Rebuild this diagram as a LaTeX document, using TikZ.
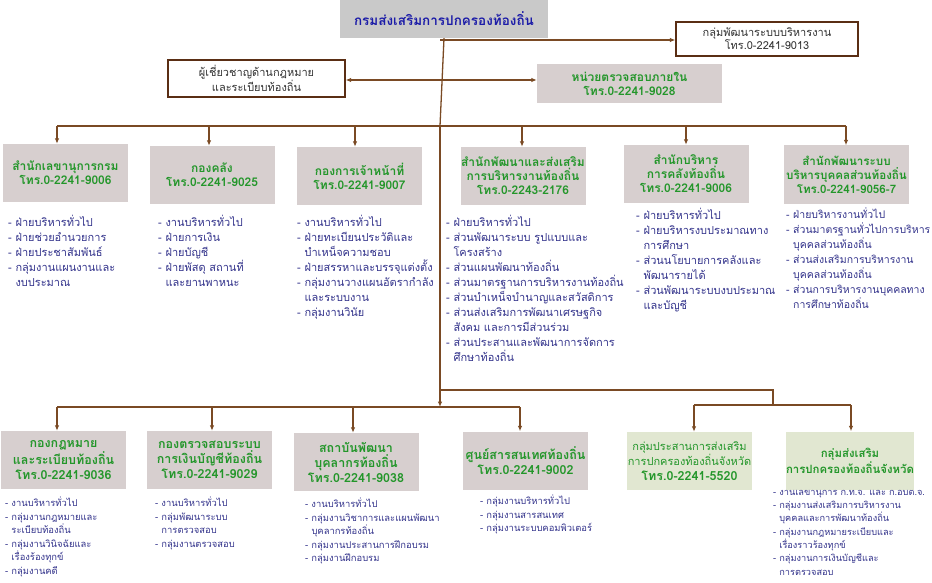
\documentclass[tikz,border=0pt]{standalone}
\usepackage{fontspec}
\setmainfont[Script=Thai]{Loma}
\usetikzlibrary{arrows.meta}
\definecolor{ln}{HTML}{7A4A24}
\definecolor{bx}{HTML}{D7CFCF}
\definecolor{ttl}{HTML}{C9C9C9}
\definecolor{gbx}{HTML}{E1E7D1}
\definecolor{grn}{HTML}{23962A}
\definecolor{lstc}{HTML}{34348C}
\definecolor{ttlc}{HTML}{1C1CA8}
\definecolor{brd}{HTML}{5A2E14}
\newcommand\contind{\hphantom{- }}
\begin{document}
\begin{tikzpicture}[x=1pt,y=-1pt,
  conn/.style={draw=ln,line width=1.3pt},
  arr/.style={conn,-{Latex[length=5.5pt,width=4.5pt]}},
  head/.style={fill=bx,text=grn,font=\fontsize{12}{14}\selectfont\bfseries,align=center,inner sep=0pt,minimum width=125pt,minimum height=58pt},
  ghead/.style={head,fill=gbx},
  wbox/.style={draw=brd,line width=1.2pt,fill=white,text=black!80,font=\fontsize{11}{13}\selectfont,align=center,inner sep=0pt},
  lst/.style={text=lstc,font=\fontsize{11}{15}\selectfont,align=left,anchor=north west,inner sep=0pt},
  lsts/.style={lst,font=\fontsize{9.4}{13.5}\selectfont}
]
\useasboundingbox (0,0) rectangle (932,583);
\fill[white] (0,0) rectangle (932,583);

% title
\node[fill=ttl,text=ttlc,font=\fontsize{13.5}{16}\selectfont\bfseries,minimum width=208pt,minimum height=38pt,inner sep=0pt] (top) at (444,19) {กรมส่งเสริมการปกครองท้องถิ่น};

% side boxes
\node[wbox,minimum width=182pt,minimum height=34pt] (dev) at (767,39) {กลุ่มพัฒนาระบบบริหารงาน\\โทร.0-2241-9013};
\node[wbox,minimum width=177pt,minimum height=37pt] (law) at (256.5,78.5) {ผู้เชี่ยวชาญด้านกฎหมาย\\และระเบียบท้องถิ่น};
\node[head,minimum width=185pt,minimum height=39pt] (aud) at (629.5,83.5) {หน่วยตรวจสอบภายใน\\โทร.0-2241-9028};

% row 1 boxes
\node[head] (b1) at (65.5,173) {สำนักเลขานุการกรม\\โทร.0-2241-9006};
\node[head] (b2) at (212,175) {กองคลัง\\โทร.0-2241-9025};
\node[head] (b3) at (359.5,176) {กองการเจ้าหน้าที่\\โทร.0-2241-9007};
\node[head] (b4) at (523,176) {สำนักพัฒนาและส่งเสริม\\การบริหารงานท้องถิ่น\\โทร.0-2243-2176};
\node[head] (b5) at (686,174) {สำนักบริหาร\\การคลังท้องถิ่น\\โทร.0-2241-9006};
\node[head,font=\fontsize{11.6}{14}\selectfont\bfseries] (b6) at (846.5,174.5) {สำนักพัฒนาระบบ\\บริหารบุคคลส่วนท้องถิ่น\\โทร.0-2241-9056-7};

% row 1 lists
\node[lst] (l1) at (8,215) {- ฝ่ายบริหารทั่วไป\\- ฝ่ายช่วยอำนวยการ\\- ฝ่ายประชาสัมพันธ์\\- กลุ่มงานแผนงานและ\\\contind งบประมาณ};
\node[lst] (l2) at (158,215) {- งานบริหารทั่วไป\\- ฝ่ายการเงิน\\- ฝ่ายบัญชี\\- ฝ่ายพัสดุ สถานที่\\\contind และยานพาหนะ};
\node[lst] (l3) at (297,215) {- งานบริหารทั่วไป\\- ฝ่ายทะเบียนประวัติและ\\\contind บำเหน็จความชอบ\\- ฝ่ายสรรหาและบรรจุแต่งตั้ง\\- กลุ่มงานวางแผนอัตรากำลัง\\\contind และระบบงาน\\- กลุ่มงานวินัย};
\node[lst] (l4) at (446,215) {- ฝ่ายบริหารทั่วไป\\- ส่วนพัฒนาระบบ รูปแบบและ\\\contind โครงสร้าง\\- ส่วนแผนพัฒนาท้องถิ่น\\- ส่วนมาตรฐานการบริหารงานท้องถิ่น\\- ส่วนบำเหน็จบำนาญและสวัสดิการ\\- ส่วนส่งเสริมการพัฒนาเศรษฐกิจ\\\contind สังคม และการมีส่วนร่วม\\- ส่วนประสานและพัฒนาการจัดการ\\\contind ศึกษาท้องถิ่น};
\node[lst] (l5) at (636,208) {- ฝ่ายบริหารทั่วไป\\- ฝ่ายบริหารงบประมาณทาง\\\contind การศึกษา\\- ส่วนนโยบายการคลังและ\\\contind พัฒนารายได้\\- ส่วนพัฒนาระบบงบประมาณ\\\contind และบัญชี};
\node[lst,font=\fontsize{10.5}{15}\selectfont] (l6) at (786,208) {- ฝ่ายบริหารงานทั่วไป\\- ส่วนมาตรฐานทั่วไปการบริหาร\\\contind บุคคลส่วนท้องถิ่น\\- ส่วนส่งเสริมการบริหารงาน\\\contind บุคคลส่วนท้องถิ่น\\- ส่วนการบริหารงานบุคคลทาง\\\contind การศึกษาท้องถิ่น};

% row 2 boxes
\node[head,font=\fontsize{12.5}{15}\selectfont\bfseries] (c1) at (63.5,460) {กองกฎหมาย\\และระเบียบท้องถิ่น\\โทร.0-2241-9036};
\node[head,font=\fontsize{12.5}{15}\selectfont\bfseries] (c2) at (209.5,460) {กองตรวจสอบระบบ\\การเงินบัญชีท้องถิ่น\\โทร.0-2241-9029};
\node[head,font=\fontsize{12.5}{15}\selectfont\bfseries] (c3) at (356,462) {สถาบันพัฒนา\\บุคลากรท้องถิ่น\\โทร.0-2241-9038};
\node[head,font=\fontsize{12.5}{15}\selectfont\bfseries] (c4) at (525.5,460.5) {ศูนย์สารสนเทศท้องถิ่น\\โทร.0-2241-9002};
\node[ghead,font=\fontsize{11}{15}\selectfont] (c5) at (689.5,461) {กลุ่มประสานการส่งเสริม\\การปกครองท้องถิ่นจังหวัด\\{\fontsize{12.5}{16}\selectfont\bfseries โทร.0-2241-5520}};
\node[ghead,font=\fontsize{11.4}{16}\selectfont\bfseries] (c6) at (850,460.5) {กลุ่มส่งเสริม\\การปกครองท้องถิ่นจังหวัด};

% row 2 lists
\node[lsts] (m1) at (5,497) {- งานบริหารทั่วไป\\- กลุ่มงานกฎหมายและ\\\contind ระเบียบท้องถิ่น\\- กลุ่มงานวินิจฉัยและ\\\contind เรื่องร้องทุกข์\\- กลุ่มงานคดี};
\node[lsts] (m2) at (155,497) {- งานบริหารทั่วไป\\- กลุ่มพัฒนาระบบ\\\contind การตรวจสอบ\\- กลุ่มงานตรวจสอบ};
\node[lsts] (m3) at (305,498) {- งานบริหารทั่วไป\\- กลุ่มงานวิชาการและแผนพัฒนา\\\contind บุคลากรท้องถิ่น\\- กลุ่มงานประสานการฝึกอบรม\\- กลุ่มงานฝึกอบรม};
\node[lsts] (m4) at (480,495) {- กลุ่มงานบริหารทั่วไป\\- กลุ่มงานสารสนเทศ\\- กลุ่มงานระบบคอมพิวเตอร์};
\node[lsts,font=\fontsize{9.2}{13.3}\selectfont] (m6) at (773,490) {- งานเลขานุการ ก.ท.จ. และ ก.อบต.จ.\\- กลุ่มงานส่งเสริมการบริหารงาน\\\contind บุคคลและการพัฒนาท้องถิ่น\\- กลุ่มงานกฎหมายระเบียบและ\\\contind เรื่องราวร้องทุกข์\\- กลุ่มงานการเงินบัญชีและ\\\contind การตรวจสอบ};

% connector coordinates
\coordinate (j1) at (440,40);
\coordinate (j2) at (440,80);
\coordinate (r1L) at (57,126);
\coordinate (r1R) at (846,126);
\coordinate (jm) at (440,126);
\coordinate (r2L) at (57,407);
\coordinate (r2R) at (520,407);
\coordinate (jb) at (440,407);
\coordinate (jg) at (440,390);
\coordinate (g1) at (773,390);
\coordinate (g2) at (773,405);
\coordinate (gL) at (694,405);
\coordinate (gR) at (851,405);

% main trunk
\draw[conn] (top.south) -- (jm);
\draw[arr] (jm) -- (jb);
\draw[arr] (j1) -- (j1 -| dev.west);
\draw[arr] (j2) -- (j2 -| law.east);
\draw[arr] (j2) -- (j2 -| aud.west);

% row 1
\draw[conn] (r1L) -- (r1R);
\draw[arr] (r1L) -- (r1L |- b1.north);
\draw[arr] (209,126) coordinate (a2) -- (a2 |- b2.north);
\draw[arr] (355,126) coordinate (a3) -- (a3 |- b3.north);
\draw[arr] (522,126) coordinate (a4) -- (a4 |- b4.north);
\draw[arr] (686,126) coordinate (a5) -- (a5 |- b5.north);
\draw[arr] (r1R) -- (r1R |- b6.north);

% row 2
\draw[conn] (r2L) -- (r2R);
\draw[arr] (r2L) -- (r2L |- c1.north);
\draw[arr] (212,407) coordinate (d2) -- (d2 |- c2.north);
\draw[arr] (353,407) coordinate (d3) -- (d3 |- c3.north);
\draw[arr] (r2R) -- (r2R |- c4.north);

% right group
\draw[conn] (jg) -- (g1) -- (g2);
\draw[conn] (gL) -- (gR);
\draw[arr] (gL) -- (gL |- c5.north);
\draw[arr] (gR) -- (gR |- c6.north);
\end{tikzpicture}
\end{document}
